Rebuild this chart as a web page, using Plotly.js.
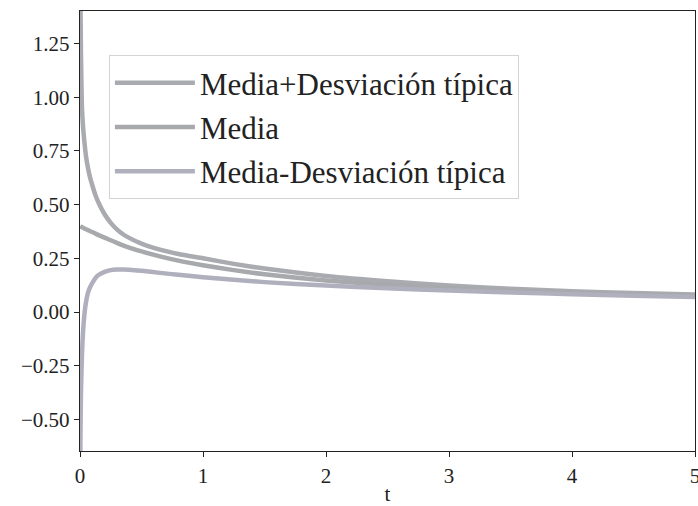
<!DOCTYPE html>
<html>
<head>
<meta charset="utf-8">
<script src="https://cdn.plot.ly/plotly-3.0.1.min.js"></script>
<style>html,body{margin:0;padding:0;background:#fff;}#chart{width:698px;height:506px;}</style>
</head>
<body>
<div id="chart"></div>
<script>
const t = [0.001, 0.003, 0.005, 0.008, 0.012, 0.016, 0.025, 0.038, 0.05, 0.065, 0.08, 0.1, 0.125, 0.15, 0.2, 0.25, 0.3, 0.35, 0.4, 0.5, 0.65, 0.8, 1.0, 1.25, 1.5, 2.0, 2.5, 3.0, 3.5, 4.0, 4.5, 5.0];
const upper = [1.6, 1.48, 1.36, 1.2, 1.05, 0.95, 0.86, 0.78, 0.72, 0.67, 0.63, 0.59, 0.545, 0.51, 0.455, 0.415, 0.385, 0.362, 0.345, 0.318, 0.29, 0.27, 0.25, 0.224, 0.202, 0.168, 0.143, 0.123, 0.108, 0.097, 0.088, 0.081];
const media = [0.40, 0.399, 0.398, 0.397, 0.396, 0.395, 0.392, 0.388, 0.385, 0.381, 0.377, 0.372, 0.365, 0.358, 0.346, 0.334, 0.322, 0.31, 0.3, 0.282, 0.259, 0.239, 0.218, 0.195, 0.176, 0.147, 0.127, 0.111, 0.099, 0.089, 0.081, 0.075];
const lower = [-0.9, -0.63, -0.5, -0.38, -0.28, -0.2, -0.09, 0.0, 0.05, 0.09, 0.113, 0.135, 0.158, 0.172, 0.187, 0.195, 0.198, 0.198, 0.197, 0.192, 0.182, 0.173, 0.162, 0.15, 0.139, 0.123, 0.11, 0.1, 0.091, 0.083, 0.076, 0.07];
const names = ['Media+Desviación típica', 'Media', 'Media-Desviación típica'];
const colors = ['#a9abb0', '#a7a9ac', '#b0afbd'];
const yTicks = [-0.5, -0.25, 0, 0.25, 0.5, 0.75, 1.0, 1.25];
const yTickText = ['\u22120.50', '\u22120.25', '0.00', '0.25', '0.50', '0.75', '1.00', '1.25'];
const xTicks = [0, 1, 2, 3, 4, 5];

const series = [upper, media, lower];
const data = series.map((ys, i) => ({
  x: t, y: ys, type: 'scatter', mode: 'lines', name: names[i], legendgroup: 'g' + i,
  line: {color: colors[i], width: 4.5, shape: 'spline', smoothing: 0.6}
}));

const font = {family: '"Liberation Serif", "DejaVu Serif", serif', color: '#222'};
const layout = {
  width: 698, height: 506,
  margin: {l: 80, r: 3, t: 11, b: 55},
  paper_bgcolor: '#fff', plot_bgcolor: '#fff',
  showlegend: true,
  legend: {
    x: 0.047, y: 0.9, xanchor: 'left', yanchor: 'top',
    bgcolor: 'rgba(255,255,255,0.9)', bordercolor: '#d4d4d4', borderwidth: 1,
    font: Object.assign({size: 31}, font),
    traceorder: 'grouped', tracegroupgap: 1, itemwidth: 80
  },
  xaxis: {
    range: [0, 5], tickvals: xTicks, ticktext: xTicks.map(String),
    showgrid: false, zeroline: false, showline: true, mirror: true,
    linecolor: '#222', linewidth: 1.3, ticks: 'outside', ticklen: 5, tickcolor: '#222',
    ticklabeloverflow: 'allow',
    tickfont: Object.assign({size: 21}, font),
    title: {text: 't', font: Object.assign({size: 21}, font), standoff: 12}
  },
  yaxis: {
    range: [-0.647, 1.401], tickvals: yTicks, ticktext: yTickText,
    showgrid: false, zeroline: false, showline: true, mirror: true,
    linecolor: '#222', linewidth: 1.3, ticks: 'outside', ticklen: 5, tickcolor: '#222',
    tickfont: Object.assign({size: 21}, font)
  }
};
Plotly.newPlot('chart', data, layout, {displayModeBar: false, staticPlot: true});
</script>
</body>
</html>
